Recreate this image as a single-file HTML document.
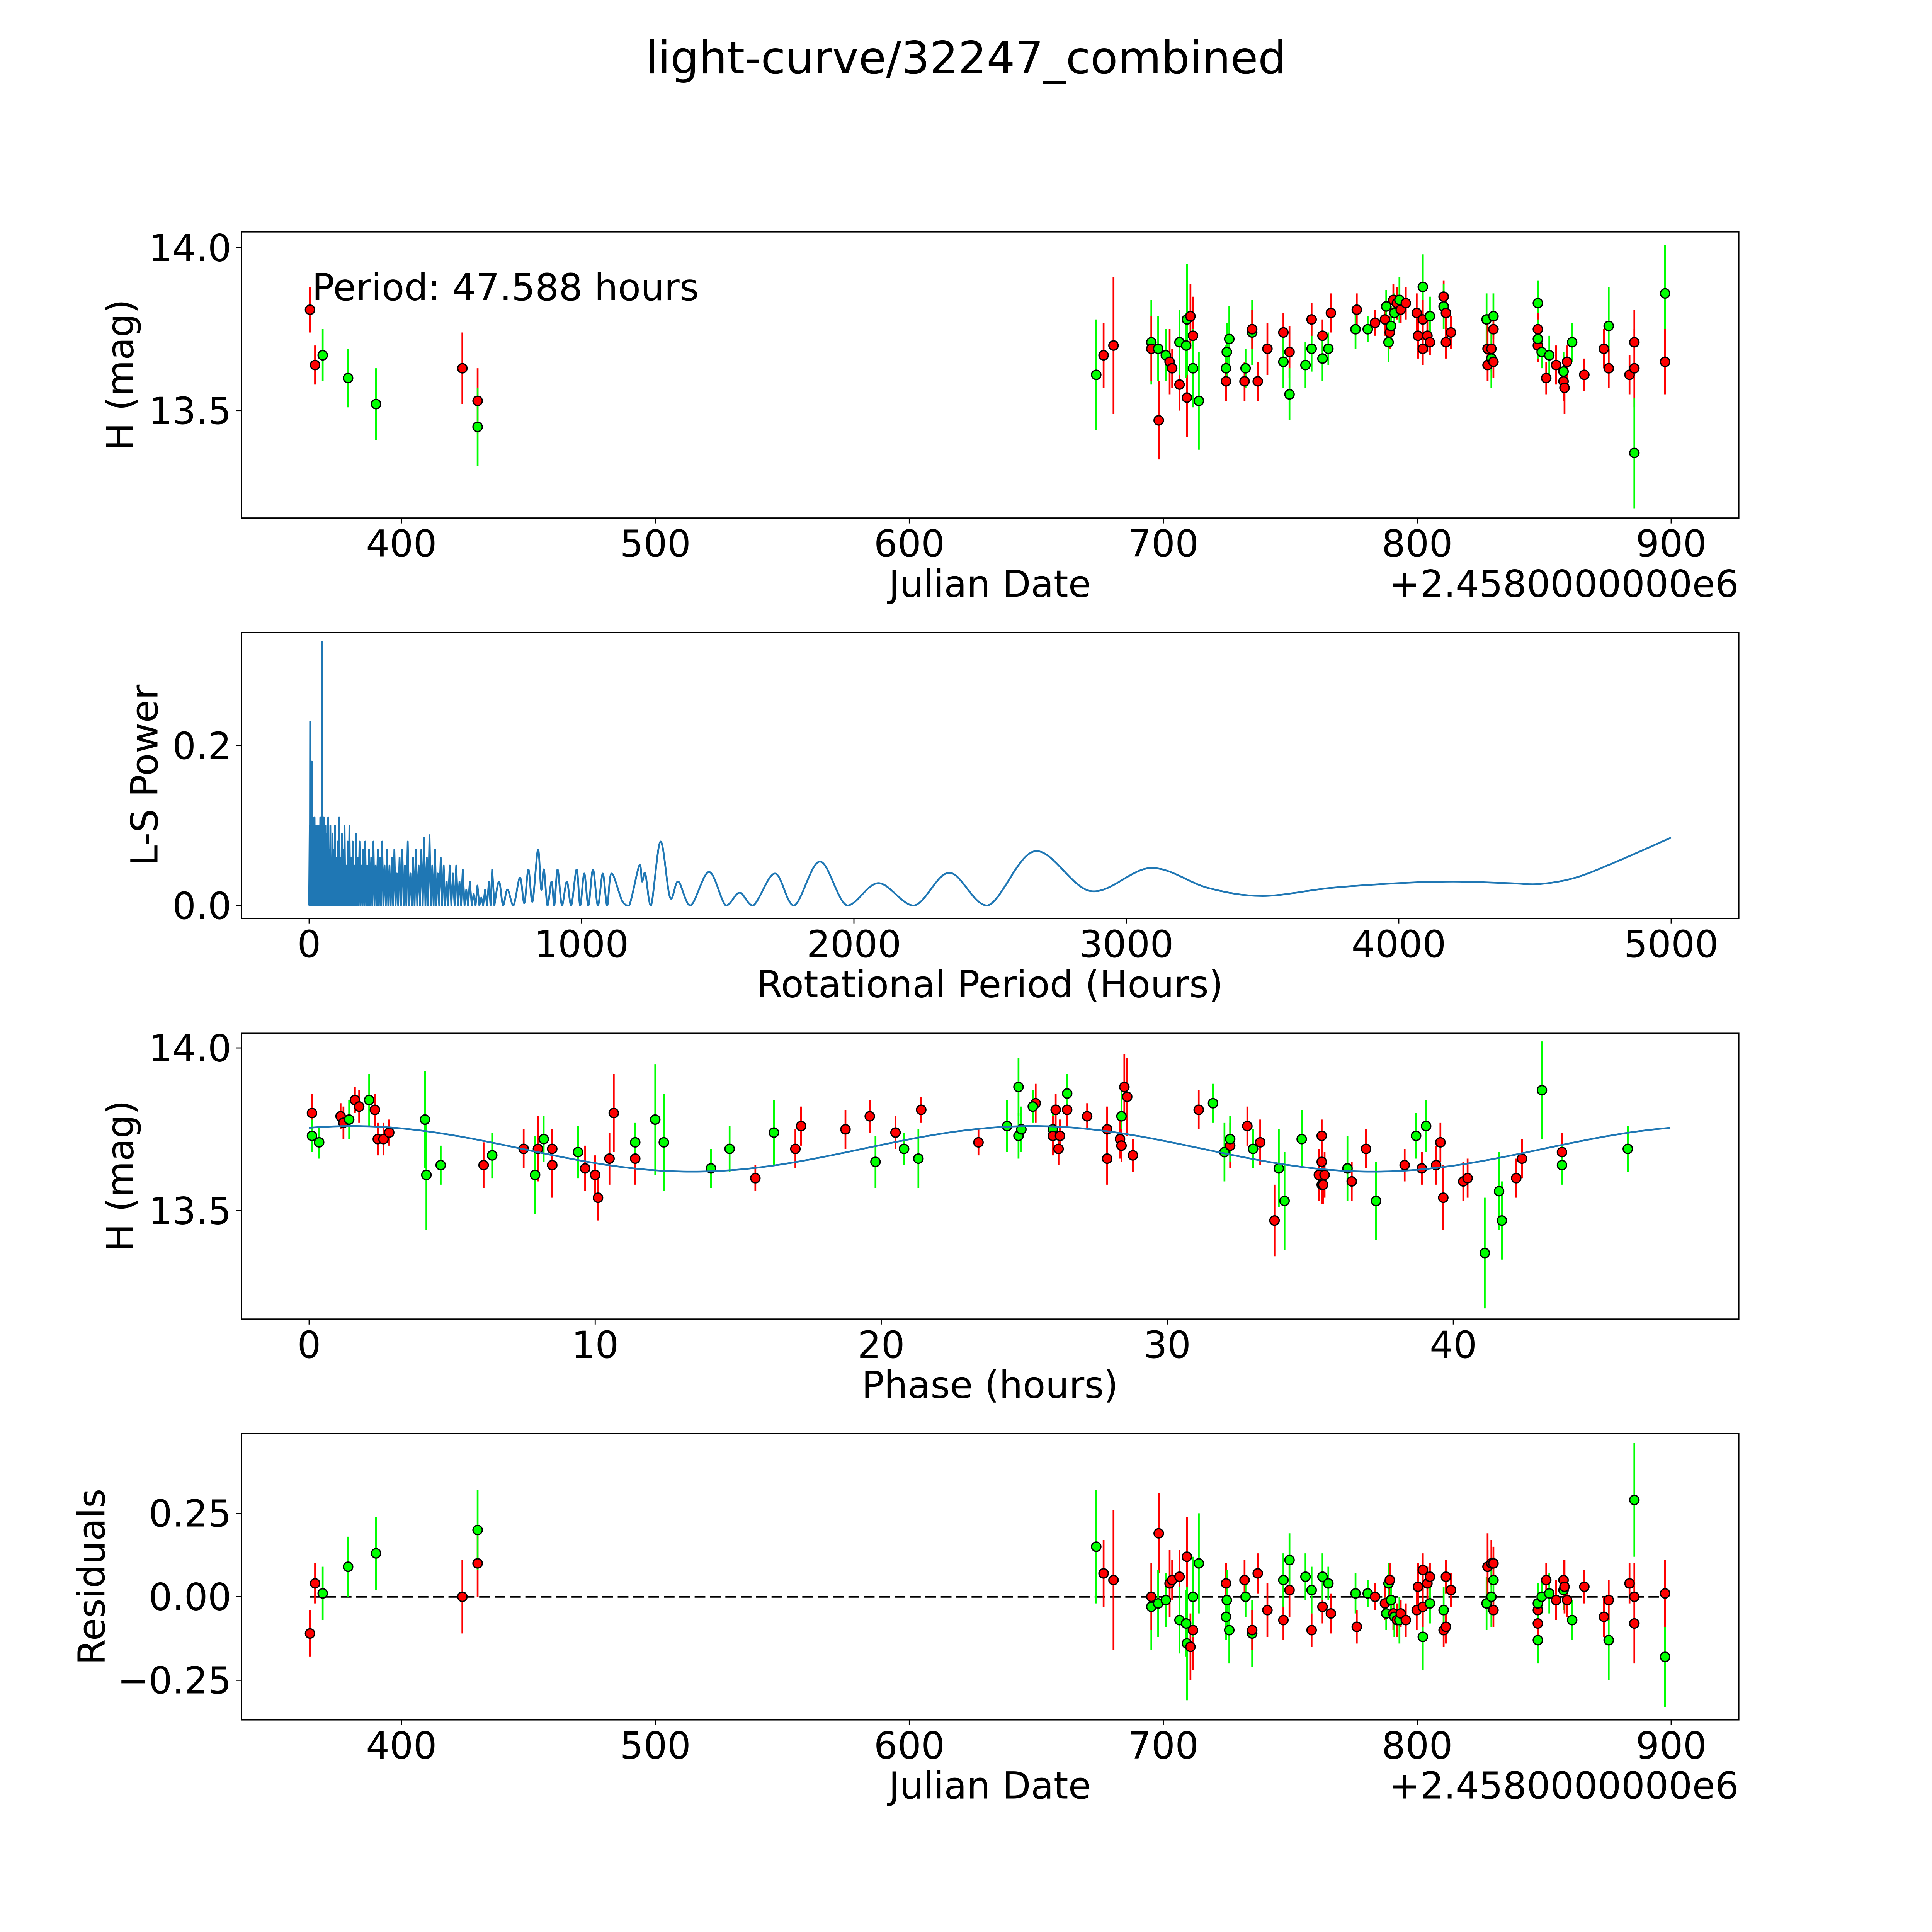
<!DOCTYPE html>
<html><head><meta charset="utf-8"><title>light-curve/32247_combined</title>
<style>html,body{margin:0;padding:0;background:#fff;overflow:hidden;}svg{display:block;}
text{font-family:"DejaVu Sans","Liberation Sans",sans-serif;fill:#000;}</style></head>
<body>
<svg id="fig" xmlns="http://www.w3.org/2000/svg" width="5400" height="5400" viewBox="0 0 5832 5832">
<rect x="0" y="0" width="5832" height="5832" fill="#fff"/>
<g id="root">
<text x="2700" y="205" font-size="125" text-anchor="middle">light-curve/32247_combined</text>
</g>
</svg>
<script>
// ---------- data: light curve (panels 1 & 4) ----------
const jdVals=[364.0,366.0,369.0,379.0,390.0,424.0,430.0,430.0,673.6,676.5,680.4,695.3,695.3,698.2,698.0,701.0,702.5,703.5,706.4,706.4,709.3,709.3,709.0,710.7,711.7,711.7,714.0,724.7,724.7,725.0,726.0,732.0,732.4,735.0,735.0,737.2,741.0,747.3,747.3,749.7,749.7,756.0,758.4,758.4,762.7,762.7,765.0,766.0,775.7,776.2,780.5,783.4,787.3,787.8,788.7,789.2,789.7,790.6,791.0,792.0,793.0,793.5,795.5,799.8,800.3,802.2,802.2,802.2,804.0,805.0,805.0,810.4,810.4,811.3,811.3,813.3,827.3,827.7,827.7,829.2,830.0,830.0,829.2,830.0,847.5,847.5,847.5,847.5,849.0,850.8,852.0,854.7,857.6,857.6,858.0,859.0,861.0,865.8,873.5,875.4,875.4,883.6,885.5,885.5,885.5,897.6,897.6];
const magVals=[13.81,13.64,13.67,13.60,13.52,13.63,13.53,13.45,13.61,13.67,13.70,13.71,13.69,13.47,13.69,13.67,13.65,13.63,13.58,13.71,13.54,13.78,13.70,13.79,13.73,13.63,13.53,13.63,13.59,13.68,13.72,13.59,13.63,13.74,13.75,13.59,13.69,13.74,13.65,13.68,13.55,13.64,13.69,13.78,13.73,13.66,13.69,13.80,13.75,13.81,13.75,13.77,13.78,13.82,13.71,13.74,13.76,13.84,13.80,13.83,13.84,13.81,13.83,13.80,13.73,13.69,13.88,13.78,13.73,13.71,13.79,13.85,13.82,13.80,13.71,13.74,13.78,13.69,13.64,13.69,13.79,13.75,13.66,13.65,13.83,13.75,13.70,13.72,13.68,13.60,13.67,13.64,13.62,13.59,13.57,13.65,13.71,13.61,13.69,13.76,13.63,13.61,13.63,13.37,13.71,13.86,13.65];
const errVals=[0.07,0.06,0.08,0.09,0.11,0.11,0.10,0.12,0.17,0.10,0.21,0.13,0.10,0.12,0.10,0.08,0.10,0.06,0.08,0.10,0.12,0.17,0.10,0.10,0.12,0.12,0.15,0.07,0.06,0.09,0.10,0.06,0.06,0.10,0.06,0.06,0.08,0.06,0.08,0.08,0.08,0.07,0.07,0.05,0.05,0.07,0.05,0.06,0.06,0.05,0.04,0.04,0.05,0.05,0.06,0.05,0.06,0.05,0.06,0.05,0.07,0.04,0.05,0.06,0.07,0.05,0.10,0.06,0.05,0.04,0.06,0.05,0.07,0.05,0.05,0.05,0.08,0.10,0.05,0.07,0.07,0.05,0.09,0.05,0.07,0.05,0.05,0.06,0.05,0.05,0.06,0.06,0.06,0.06,0.08,0.05,0.06,0.05,0.06,0.12,0.06,0.06,0.12,0.17,0.10,0.15,0.10];
const bandVals=("rrgggrrggr"+"rgrrggrrrg"+"rggrrgggrg"+"grggrrrrgr"+"gggrrggrgr"+"grrggrgrgr"+"grrrrrgrrr"+"grgrrrgrrr"+"grgrgrrggr"+"grgrrrgrrg"+"rrrgrgr").split("");
const resVals=[-0.11,0.04,0.01,0.09,0.13,0.00,0.10,0.20,0.15,0.07,0.05,-0.03,0.00,0.19,-0.02,-0.01,0.04,0.05,0.06,-0.07,0.12,-0.14,-0.08,-0.15,-0.10,0.00,0.10,-0.06,0.04,-0.01,-0.10,0.05,0.00,-0.11,-0.10,0.07,-0.04,-0.07,0.05,0.02,0.11,0.06,0.02,-0.10,-0.03,0.06,0.04,-0.05,0.01,-0.09,0.01,0.00,-0.02,-0.05,0.04,0.05,-0.01,-0.05,-0.06,-0.07,-0.07,-0.05,-0.07,-0.04,0.03,0.08,-0.12,-0.03,0.04,0.06,-0.02,-0.10,-0.04,-0.09,0.06,0.02,-0.02,0.09,0.09,0.10,0.05,-0.04,0.00,0.10,-0.13,-0.04,-0.08,-0.02,0.00,0.05,0.01,-0.01,0.02,0.05,0.03,-0.01,-0.07,0.03,-0.06,-0.13,-0.01,0.04,-0.08,0.29,0.00,-0.18,0.01];
// ---------- data: phase-folded (panel 3) ----------
const phaseVals=[0.1,0.1,0.35,1.1,1.2,1.4,1.6,1.75,2.1,2.3,2.4,2.6,2.8,4.05,4.1,4.6,6.1,6.4,7.5,7.9,8.0,8.2,8.5,8.5,9.4,9.65,10.0,10.1,10.5,10.65,11.4,11.4,12.1,12.4,14.05,14.7,15.6,16.25,17.0,17.2,18.75,19.6,19.8,20.5,20.8,21.3,21.4,23.4,24.4,24.8,24.8,24.9,25.4,25.3,26.0,26.0,26.1,26.2,26.25,26.5,26.5,27.2,27.9,27.9,28.35,28.4,28.4,28.5,28.6,28.8,31.1,31.6,32.0,32.2,32.2,32.8,33.0,33.25,34.7,33.75,33.9,34.1,35.3,35.4,35.4,35.4,35.5,35.45,36.3,36.45,36.95,37.3,38.3,38.7,38.9,39.05,39.4,39.55,39.65,41.1,40.35,40.5,41.6,41.7,42.2,42.4,43.1,43.8,43.8,46.1];
const phaseMag=[13.80,13.73,13.71,13.79,13.77,13.78,13.84,13.82,13.84,13.81,13.72,13.72,13.74,13.78,13.61,13.64,13.64,13.67,13.69,13.61,13.69,13.72,13.69,13.64,13.68,13.63,13.61,13.54,13.66,13.80,13.66,13.71,13.78,13.71,13.63,13.69,13.60,13.74,13.69,13.76,13.75,13.79,13.65,13.74,13.69,13.66,13.81,13.71,13.76,13.88,13.73,13.75,13.83,13.82,13.75,13.73,13.81,13.69,13.73,13.81,13.86,13.79,13.75,13.66,13.72,13.79,13.70,13.88,13.85,13.67,13.81,13.83,13.68,13.70,13.72,13.76,13.69,13.71,13.72,13.47,13.63,13.53,13.61,13.73,13.65,13.58,13.61,13.58,13.63,13.59,13.69,13.53,13.64,13.73,13.63,13.76,13.64,13.71,13.54,13.37,13.59,13.60,13.56,13.47,13.60,13.66,13.87,13.68,13.64,13.69];
const phaseErr=[0.06,0.05,0.05,0.04,0.05,0.06,0.04,0.05,0.08,0.05,0.05,0.05,0.04,0.15,0.17,0.06,0.07,0.07,0.06,0.12,0.10,0.07,0.06,0.10,0.08,0.07,0.06,0.07,0.08,0.12,0.08,0.06,0.17,0.15,0.06,0.07,0.04,0.10,0.06,0.06,0.06,0.05,0.08,0.05,0.05,0.09,0.04,0.04,0.08,0.09,0.07,0.07,0.06,0.05,0.06,0.06,0.05,0.05,0.05,0.05,0.06,0.04,0.07,0.08,0.06,0.09,0.05,0.10,0.12,0.05,0.06,0.06,0.09,0.07,0.07,0.06,0.06,0.07,0.09,0.11,0.12,0.15,0.08,0.05,0.06,0.06,0.07,0.06,0.10,0.06,0.06,0.12,0.05,0.07,0.05,0.08,0.06,0.06,0.10,0.17,0.06,0.06,0.12,0.12,0.06,0.06,0.15,0.06,0.06,0.07];
const phaseBand=("rggrrgrrgr"+"rrrgggrgrg"+"rgrrgrrrrr"+"rgggggrgrr"+"rrgrggrrgg"+"ggrggrrrrr"+"grrrrgrrrr"+"rggrgrgrgr"+"ggrrrrrrgr"+"rgrgrgrrrg"+"rrggrrgrgg").split("");
const modelCoef=[13.69,0.07,1.5,23.794]; // mean, amplitude, phase of peak, half period
// ---------- data: Lomb-Scargle periodogram (panel 2) ----------
const lsSpikeP=[2,4,6,8,10,12,14,17,20,23,26,29,32,35,38,41,44,47.6,51,54,57,60,63,66,70,74,78,82,86,90,95,100,105,110,115,120,125,130,136,142,148,154,160,166,172,178,185,192,199,206,213,220,228,236,244,252,260,268,277,286,295,304,313,322,332,342,352,362,372,382,392,402,412,422,432,442,452,462,472,483,494,505,516,528,540,552,564,577,590,604,618,632,646,660,672];
const lsSpikeV=[0.10,0.23,0.12,0.17,0.18,0.08,0.11,0.09,0.11,0.10,0.06,0.10,0.07,0.10,0.08,0.11,0.07,0.33,0.09,0.11,0.07,0.10,0.06,0.09,0.11,0.07,0.10,0.06,0.09,0.07,0.10,0.06,0.08,0.11,0.06,0.09,0.07,0.10,0.05,0.08,0.10,0.06,0.08,0.05,0.09,0.06,0.08,0.05,0.07,0.08,0.05,0.07,0.06,0.08,0.05,0.07,0.06,0.08,0.05,0.07,0.05,0.06,0.07,0.04,0.06,0.07,0.05,0.08,0.04,0.06,0.07,0.05,0.07,0.085,0.06,0.088,0.05,0.07,0.04,0.06,0.05,0.03,0.05,0.04,0.05,0.03,0.045,0.02,0.03,0.015,0.025,0.01,0.02,0.03,0.045];
const lsSmoothP=[680,697,712,728,750,774,790,805,820,840,852,862,875,890,900,912,928,946,962,982,995,1010,1025,1042,1060,1078,1094,1110,1150,1175,1212,1222,1234,1255,1290,1325,1355,1400,1468,1530,1580,1630,1710,1780,1875,1975,2090,2220,2350,2490,2665,2870,3090,3300,3500,3750,4000,4200,4400,4520,4650,4800,5000];
const lsSmoothV=[0.0,0.03,0.0,0.02,0.0,0.035,0.003,0.045,0.005,0.07,0.02,0.045,0.0,0.03,0.0,0.045,0.0,0.03,0.0,0.045,0.0,0.04,0.0,0.045,0.0,0.04,0.0,0.04,0.005,0.0,0.05,0.03,0.04,0.0,0.08,0.01,0.03,0.0,0.042,0.0,0.016,0.0,0.04,0.0,0.055,0.0,0.028,0.0,0.041,0.0,0.068,0.018,0.047,0.022,0.012,0.022,0.028,0.03,0.028,0.027,0.035,0.055,0.085];
// ---------- tick labels ----------
const jdTicks=[400,500,600,700,800,900];
const lsXTicks=[0,1000,2000,3000,4000,5000];
const phXTicks=[0,10,20,30,40];
const magTicks=[14.0,13.5];
const lsYTicks=[0.0,0.2];
const resTicks=[0.25,0.0,-0.25];

const NS="http://www.w3.org/2000/svg";
const svg=document.getElementById('root');
function mk(tag,parent){const e=document.createElementNS(NS,tag);parent.appendChild(e);return e;}
const FS='104';
const L=675,R=4860;
const panels=[{t:648,b:1448},{t:1768,b:2567},{t:2888,b:3687},{t:4007,b:4807}];
const xJD=d=>1122+(d-400)*7.098;
const xLS=p=>864+p*0.7614;
const xPH=p=>864+p*79.95;
const yMag1=m=>692.7-(m-14)*910;
const yMag3=m=>2929-(m-14)*910;
const yLS=v=>2531-v*2235;
const yRes=r=>4463-r*933;
const COL={r:'#ff0000',g:'#00ff00'};

function frame(i,name){
  const p=panels[i];
  const r=mk('rect',svg);
  r.setAttribute('x',L);r.setAttribute('y',p.t);r.setAttribute('width',R-L);r.setAttribute('height',p.b-p.t);
  r.setAttribute('fill','none');r.setAttribute('stroke','#000');r.setAttribute('stroke-width','3.5');
  
  
}
function xticks(i,ticks,fx,fmt,name){
  const p=panels[i];
  ticks.forEach(v=>{
    const x=fx(v);
    const l=mk('line',svg);
    l.setAttribute('x1',x);l.setAttribute('x2',x);l.setAttribute('y1',p.b);l.setAttribute('y2',p.b+15);
    l.setAttribute('stroke','#000');l.setAttribute('stroke-width','3');
    
    
    const t=mk('text',svg);
    t.setAttribute('x',x);t.setAttribute('y',p.b+108);t.setAttribute('font-size',FS);t.setAttribute('text-anchor','middle');
    t.textContent=fmt(v);
    
    
  });
}
function yticks(ticks,fy,fmt,name){
  ticks.forEach(v=>{
    const y=fy(v);
    const l=mk('line',svg);
    l.setAttribute('x1',L-15);l.setAttribute('x2',L);l.setAttribute('y1',y);l.setAttribute('y2',y);
    l.setAttribute('stroke','#000');l.setAttribute('stroke-width','3');
    
    
    const t=mk('text',svg);
    t.setAttribute('x',L-28);t.setAttribute('y',y+37);t.setAttribute('font-size',FS);t.setAttribute('text-anchor','end');
    t.textContent=fmt(v);
    
    
  });
}
function label(txt,x,y,rot,name,anchor){
  const t=mk('text',svg);
  t.setAttribute('x',x);t.setAttribute('y',y);t.setAttribute('font-size',FS);t.setAttribute('text-anchor',anchor||'middle');
  if(rot)t.setAttribute('transform','rotate(-90 '+x+' '+y+')');
  t.textContent=txt;
  
  
}
function errpoints(xs,ys,es,bands,fx,fy,name){
  const g=mk('g',svg);
  
  
  for(let k=0;k<xs.length;k++){
    const l=mk('line',g);
    const x=fx(xs[k]);
    l.setAttribute('x1',x);l.setAttribute('x2',x);l.setAttribute('y1',fy(ys[k]-es[k]));l.setAttribute('y2',fy(ys[k]+es[k]));
    l.setAttribute('stroke',COL[bands[k]]||'#ff0000');l.setAttribute('stroke-width','5');
    
    
  }
  for(let k=0;k<xs.length;k++){
    const c=mk('circle',g);
    c.setAttribute('cx',fx(xs[k]));c.setAttribute('cy',fy(ys[k]));c.setAttribute('r','13');
    c.setAttribute('fill',COL[bands[k]]||'#ff0000');c.setAttribute('stroke','#000');c.setAttribute('stroke-width','3.5');
    
    
  }
}
const f1=v=>v.toFixed(1);
// Panel 1
errpoints(jdVals,magVals,errVals,bandVals,xJD,yMag1,'light-curve-points');
frame(0,'light-curve-panel');
xticks(0,jdTicks,xJD,v=>String(v),'light-curve');
yticks(magTicks,yMag1,f1,'light-curve');
label('Julian Date',2767,1668,false,'light-curve-x-axis-title');
label('+2.4580000000e6',4860,1668,false,'light-curve-x-offset','end');
label('H (mag)',372,1048,true,'light-curve-y-axis-title');
label('Period: 47.588 hours',872,839,false,'period-annotation','start');
// Panel 2
(function(){
  let d='M'+xLS(0)+' '+yLS(0);
  let prevP=0;
  for(let k=0;k<lsSpikeP.length;k++){
    const p=lsSpikeP[k];
    const mid=(prevP+p)/2;
    if(k>0)d+=' L'+xLS(mid).toFixed(1)+' '+yLS(0).toFixed(1);
    d+=' L'+xLS(p).toFixed(1)+' '+yLS(lsSpikeV[k]).toFixed(1);
    prevP=p;
  }
  const pts=lsSmoothP.map((p,i)=>[xLS(p),yLS(lsSmoothV[i])]);
  d+=' L'+pts[0][0].toFixed(1)+' '+pts[0][1].toFixed(1);
  for(let i=0;i<pts.length-1;i++){
    const p0=pts[Math.max(0,i-1)],p1=pts[i],p2=pts[i+1],p3=pts[Math.min(pts.length-1,i+2)];
    const c1x=p1[0]+(p2[0]-p0[0])/6,c1y=Math.min(yLS(0),p1[1]+(p2[1]-p0[1])/6);
    const c2x=p2[0]-(p3[0]-p1[0])/6,c2y=Math.min(yLS(0),p2[1]-(p3[1]-p1[1])/6);
    d+=' C'+c1x.toFixed(1)+' '+c1y.toFixed(1)+' '+c2x.toFixed(1)+' '+c2y.toFixed(1)+' '+p2[0].toFixed(1)+' '+p2[1].toFixed(1);
  }
  const path=mk('path',svg);
  path.setAttribute('d',d);path.setAttribute('fill','none');path.setAttribute('stroke','#1f77b4');
  path.setAttribute('stroke-width','5');path.setAttribute('stroke-linejoin','round');
  
  
})();
frame(1,'periodogram-panel');
xticks(1,lsXTicks,xLS,v=>String(v),'periodogram');
yticks(lsYTicks,yLS,f1,'periodogram');
label('Rotational Period (Hours)',2767,2787,false,'periodogram-x-axis-title');
label('L-S Power',440,2167,true,'periodogram-y-axis-title');
// Panel 3
errpoints(phaseVals,phaseMag,phaseErr,phaseBand,xPH,yMag3,'phase-points');
(function(){
  let d='';
  for(let s=0;s<=400;s++){
    const ph=47.588*s/400;
    const m=modelCoef[0]+modelCoef[1]*Math.cos(2*Math.PI*(ph-modelCoef[2])/modelCoef[3]);
    d+=(s?' L':'M')+xPH(ph).toFixed(1)+' '+yMag3(m).toFixed(1);
  }
  const path=mk('path',svg);
  path.setAttribute('d',d);path.setAttribute('fill','none');path.setAttribute('stroke','#1f77b4');path.setAttribute('stroke-width','5');
  
  
})();
frame(2,'phase-panel');
xticks(2,phXTicks,xPH,v=>String(v),'phase');
yticks(magTicks,yMag3,f1,'phase');
label('Phase (hours)',2767,3907,false,'phase-x-axis-title');
label('H (mag)',372,3287,true,'phase-y-axis-title');
// Panel 4
(function(){
  const l=mk('line',svg);
  l.setAttribute('x1',xJD(jdVals[0]));l.setAttribute('x2',xJD(897.6));l.setAttribute('y1',yRes(0));l.setAttribute('y2',yRes(0));
  l.setAttribute('stroke','#000');l.setAttribute('stroke-width','5');l.setAttribute('stroke-dasharray','30 13');
  
  
})();
errpoints(jdVals,resVals,errVals,bandVals,xJD,yRes,'residual-points');
frame(3,'residuals-panel');
xticks(3,jdTicks,xJD,v=>String(v),'residuals');
yticks(resTicks,yRes,v=>(v<0?'\u2212':'')+Math.abs(v).toFixed(2),'residuals');
label('Julian Date',2767,5027,false,'residuals-x-axis-title');
label('+2.4580000000e6',4860,5027,false,'residuals-x-offset','end');
label('Residuals',292,4407,true,'residuals-y-axis-title');
</script>
</body></html>
